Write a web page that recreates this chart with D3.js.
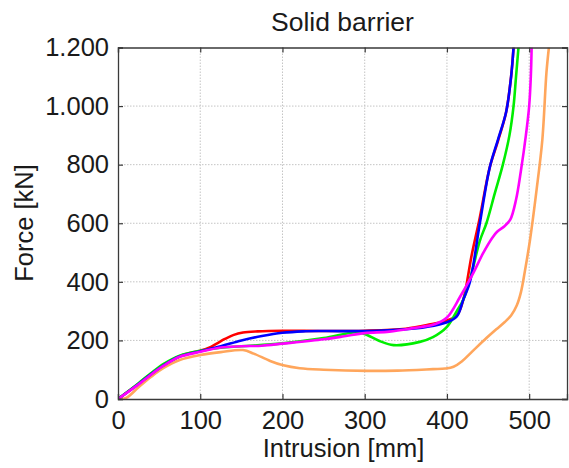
<!DOCTYPE html>
<html lang="en">
<head>
<meta charset="utf-8">
<title>Solid barrier</title>
<script src="https://cdn.jsdelivr.net/npm/d3@7"></script>
<style>
  body { margin: 0; background: #fff; }
  text { font-family: "Liberation Sans", Arial, sans-serif; fill: #1a1a1a; }
</style>
</head>
<body>
<div id="chart"></div>
<script>
// tick values
var xTicks = [0, 100, 200, 300, 400, 500];
var yTicks = [0, 200, 400, 600, 800, 1000, 1200];

// curves: [intrusion mm, force kN]
var orange = [[0,0],[10,4],[25,40],[40,75],[55,105],[75,133],[100,150],[125,160],[152,167],[165,155],[185,130],[201,115],[221,105],[250,100],[303,96],[340,97],[383,102],[398,104],[408,110],[418,128],[430,160],[448,208],[460,238],[470,262],[478,285],[485,320],[490,365],[495,440],[501,543],[509,714],[516,885],[521,1114],[524,1200]];
var red = [[0,0],[25,52],[40,85],[55,115],[75,146],[100,165],[110,174],[120,189],[130,205],[140,218],[152,227],[170,231],[200,233],[250,232],[300,233],[350,240],[380,255],[400,268],[412,285],[420,340],[430,490],[440,620],[452,790],[462,880],[472,980],[478,1100],[481,1200]];
var green = [[0,0],[25,54],[40,88],[55,119],[75,148],[100,165],[125,175],[150,180],[200,190],[250,208],[290,228],[300,222],[318,198],[335,184],[367,195],[383,211],[400,246],[412,300],[420,340],[430,430],[440,540],[448,600],[458,700],[468,800],[476,900],[481,1000],[484,1100],[487,1200]];
var blue = [[0,0],[25,51],[40,84],[55,114],[75,145],[100,163],[125,180],[150,200],[175,215],[200,226],[225,231],[250,232],[300,232],[350,238],[375,246],[400,262],[412,282],[420,340],[428,400],[440,600],[452,790],[462,885],[472,980],[478,1100],[481,1200]];
var magenta = [[0,0],[25,50],[40,83],[55,113],[75,144],[100,161],[125,176],[150,180],[175,182],[200,189],[250,204],[275,214],[300,225],[330,230],[359,242],[385,255],[400,278],[416,349],[432,430],[444,498],[455,550],[461,571],[470,590],[477,612],[484,680],[490,780],[496,900],[500,1000],[502,1100],[503,1200]];

var series = [
  {data: orange, color: "#ffa65c"},
  {data: red, color: "#ff0000"},
  {data: green, color: "#00ee00"},
  {data: blue, color: "#0000ff"},
  {data: magenta, color: "#ff00ff"}
];

var W = 569, H = 468;
var mLeft = 118, mRight = 567, mTop = 47.5, mBottom = 399;

var svg = d3.select("#chart").append("svg")
  .attr("width", W).attr("height", H);

var x = d3.scaleLinear().domain([0, 546]).range([mLeft, mRight]);
var y = d3.scaleLinear().domain([0, 1200]).range([mBottom, mTop]);

var fmt = function(d) { return d >= 1000 ? d3.format(",")(d).replace(",", ".") : d; };

// grid
svg.append("g").selectAll("line").data(xTicks.slice(1)).enter().append("line")
  .attr("x1", d => x(d)).attr("x2", d => x(d)).attr("y1", mTop).attr("y2", mBottom)
  .attr("stroke", "#c4c4c4").attr("stroke-width", 1).attr("stroke-dasharray", "1.5,1.5");
svg.append("g").selectAll("line").data(yTicks.slice(1, -1)).enter().append("line")
  .attr("y1", d => y(d)).attr("y2", d => y(d)).attr("x1", mLeft).attr("x2", mRight)
  .attr("stroke", "#c4c4c4").attr("stroke-width", 1).attr("stroke-dasharray", "1.5,1.5");

// curves
svg.append("clipPath").attr("id", "clip").append("rect")
  .attr("x", mLeft).attr("y", mTop).attr("width", mRight - mLeft).attr("height", mBottom - mTop);

var line = d3.line().x(d => x(d[0])).y(d => y(d[1])).curve(d3.curveCatmullRom.alpha(0.5));

svg.append("g").attr("clip-path", "url(#clip)")
  .selectAll("path").data(series).enter().append("path")
  .attr("d", d => line(d.data))
  .attr("fill", "none")
  .attr("stroke", d => d.color)
  .attr("stroke-width", 2.6)
  .attr("stroke-linejoin", "round");

// axes (ticks inward, box on all sides)
var axisColor = "#3a3a3a";
var gx = svg.append("g").attr("transform", "translate(0," + mBottom + ")")
  .call(d3.axisBottom(x).tickValues(xTicks).tickSize(-5).tickPadding(12).tickFormat(d => d));
var gxt = svg.append("g").attr("transform", "translate(0," + mTop + ")")
  .call(d3.axisTop(x).tickValues(xTicks).tickSize(-5).tickFormat(""));
var gy = svg.append("g").attr("transform", "translate(" + mLeft + ",0)")
  .call(d3.axisLeft(y).tickValues(yTicks).tickSize(-5).tickPadding(9).tickFormat(fmt));
var gyr = svg.append("g").attr("transform", "translate(" + mRight + ",0)")
  .call(d3.axisRight(y).tickValues(yTicks).tickSize(-5).tickFormat(""));

[gx, gxt, gy, gyr].forEach(function(g) {
  g.select(".domain").attr("stroke", axisColor).attr("stroke-width", 1.3);
  g.selectAll(".tick line").attr("stroke", axisColor).attr("stroke-width", 1.2);
  g.selectAll("text").attr("font-size", 25.5).attr("fill", "#1a1a1a")
    .style("font-family", "'Liberation Sans', Arial, sans-serif");
});
gx.selectAll("text").attr("dy", "0.71em");

// labels
svg.append("text").attr("x", (mLeft + mRight) / 2).attr("y", 31)
  .attr("text-anchor", "middle").attr("font-size", 26.5).text("Solid barrier");
svg.append("text").attr("x", (mLeft + mRight) / 2 + 1).attr("y", 457)
  .attr("text-anchor", "middle").attr("font-size", 25.5).text("Intrusion [mm]");
svg.append("text").attr("transform", "translate(33," + 223 + ") rotate(-90)")
  .attr("text-anchor", "middle").attr("font-size", 25.5).text("Force [kN]");
</script>
</body>
</html>
